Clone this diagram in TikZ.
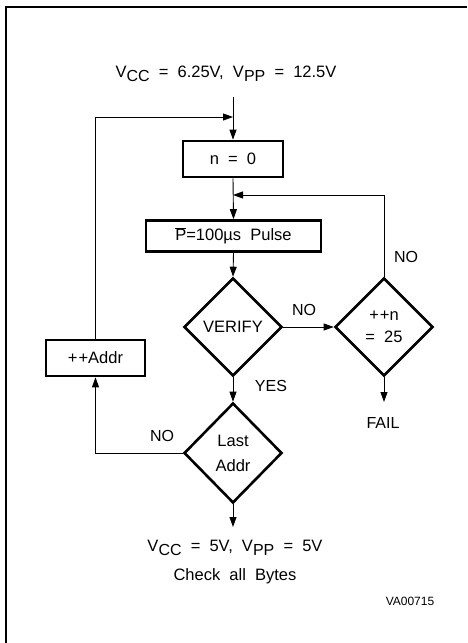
\documentclass[tikz,border=0pt]{standalone}
\usepackage{fontspec}
\setmainfont{Liberation Sans}
\usetikzlibrary{shapes.geometric,arrows.meta}
\newcommand\lowsub[1]{\raisebox{-0.45ex}{\fontsize{16}{16}\selectfont #1}}
\begin{document}
\begin{tikzpicture}[x=1pt,y=-1pt,
  every node/.style={font=\fontsize{16.5}{25}\selectfont},
  box/.style={draw,line width=2.6pt,inner sep=0pt,minimum height=36pt},
  dia/.style={draw,diamond,line width=2.6pt,inner sep=0pt,minimum width=98pt,minimum height=98pt,align=center},
  conn/.style={line width=0.9pt},
  arr/.style={conn,-{Triangle[length=10pt,width=7pt]}},
  lbl/.style={font=\fontsize{16}{18}\selectfont}]
\useasboundingbox (0,0) rectangle (467,643);
\draw[line width=1.4pt] (6,643) -- (6,7) -- (467,7);

\node (title) at (226,74) {V\lowsub{CC} ~= ~6.25V, ~V\lowsub{PP} ~= ~12.5V};
\coordinate (top) at (233,97);
\coordinate (j1) at (233,117);
\coordinate (j2) at (233,195);

\node[box,minimum width=100pt] (n0) at (233,159) {n ~= ~0};
\node[box,minimum width=175pt,minimum height=31pt] (pulse) at (233.5,236) {$\overline{\hbox{P}}$=100\textmu s ~Pulse};
\node[dia] (ver) at (233,327) {VERIFY};
\node[dia,font=\fontsize{16.5}{22}\selectfont] (plus) at (384,327) {+\kern1pt+n\\= ~25};
\node[dia,minimum height=100pt] (last) at (233,453) {Last\\Addr};
\node[box,minimum width=99pt] (addr) at (95.5,358) {+\kern1pt+Addr};

\node[lbl] (fail) at (383,423) {FAIL};
\coordinate (failtip) at (384,402);
\coordinate (endtip) at (233,527);
\node[align=center,font=\fontsize{16.5}{29}\selectfont] (res) at (235,562) {V\lowsub{CC} ~= ~5V, ~V\lowsub{PP} ~= ~5V\\Check ~all ~Bytes};
\node[font=\fontsize{12}{12}\selectfont] (va) at (410,601) {VA00715};

\draw[arr] (top) -- (n0.north);
\draw[arr] (addr.north) |- (j1);
\draw[arr] (n0.south) -- (pulse.north);
\draw[arr] (plus.north) |- (j2);
\draw[arr] (pulse.south) -- (ver.north);
\draw[arr] (ver.east) -- (plus.west);
\draw[arr] (ver.south) -- (last.north);
\draw[arr] (plus.south) -- (failtip);
\draw[arr] (last.west) -| (addr.south);
\draw[arr] (last.south) -- (endtip);

\node[lbl] (no1) at (304,310) {NO};
\node[lbl] (no2) at (406,257) {NO};
\node[lbl] (yes) at (271,386) {YES};
\node[lbl] (no3) at (162,436) {NO};
\end{tikzpicture}
\end{document}
